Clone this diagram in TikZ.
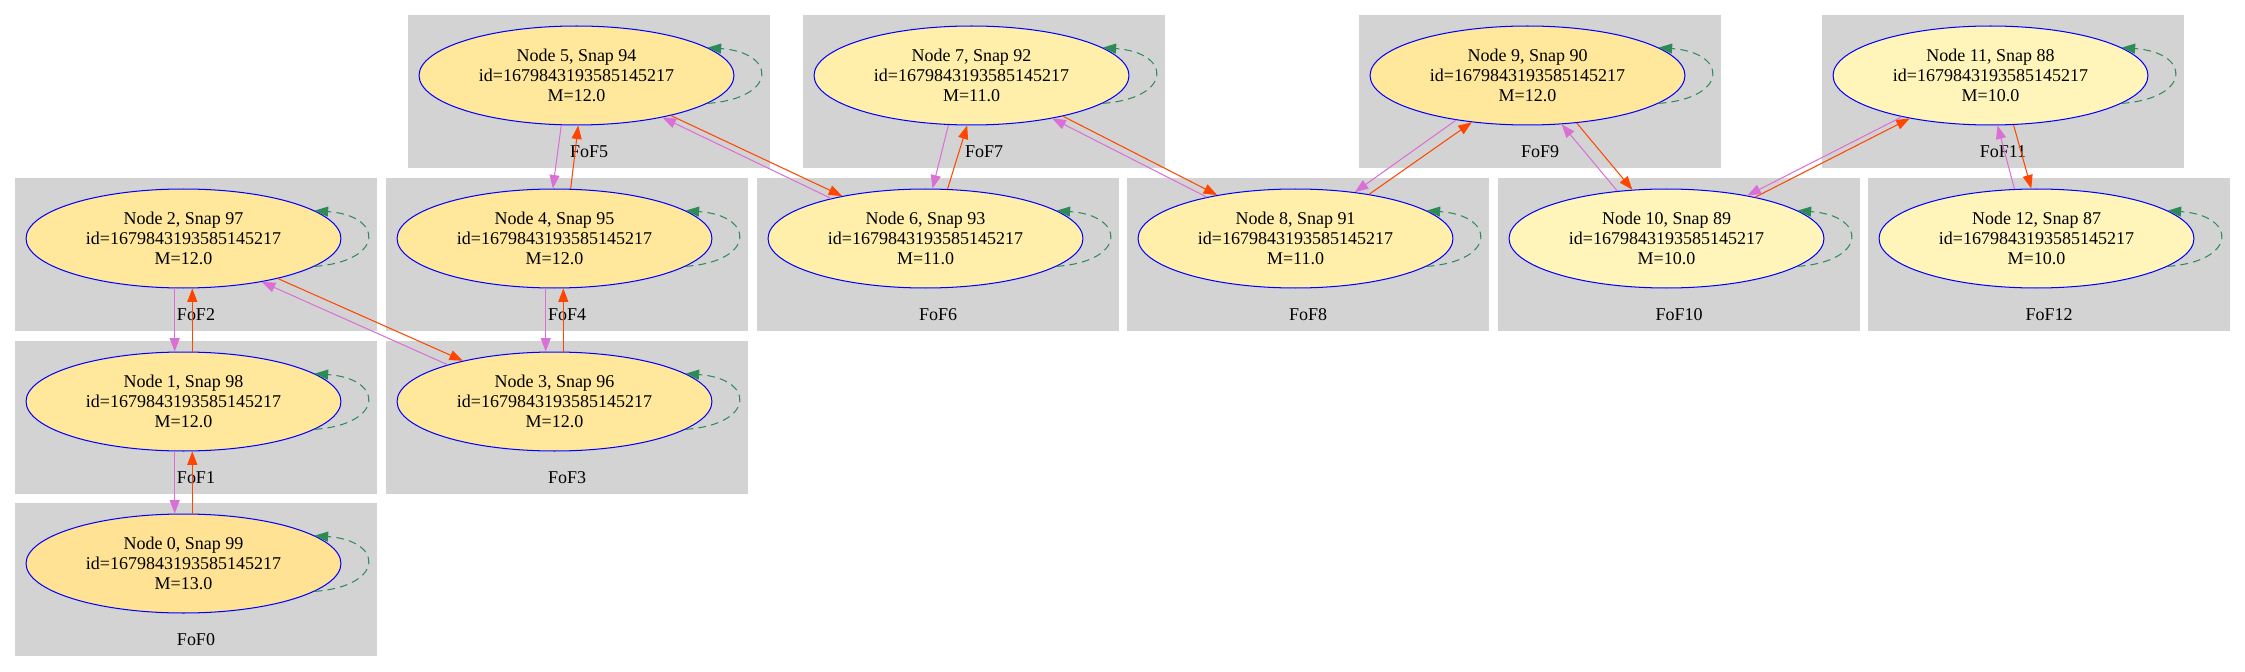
\documentclass[tikz,border=0pt]{standalone}
\usepackage{fontspec}
\setmainfont{Liberation Serif}
\usetikzlibrary{arrows.meta,shapes.geometric}
\definecolor{fofbg}{RGB}{211,211,211}
\definecolor{massxiii}{RGB}{255,226,147}
\definecolor{massxii}{RGB}{255,231,156}
\definecolor{massxi}{RGB}{255,239,170}
\definecolor{massx}{RGB}{255,245,186}
\definecolor{progline}{RGB}{255,69,0}
\definecolor{descline}{RGB}{218,112,214}
\definecolor{selfline}{RGB}{46,139,87}

\begin{document}
\begin{tikzpicture}[x=0.778pt,y=-0.778pt,font=\fontsize{14pt}{15.6pt}\selectfont,
    fof/.style={fill=fofbg,minimum width=281.6pt,minimum height=119pt,inner sep=0pt},
    fofname/.style={anchor=base,yshift=8.5pt,inner sep=0pt},
    halo/.style={ellipse,draw=blue,line width=0.8pt,minimum width=245pt,minimum height=77pt,inner sep=0pt,align=center},
    prog/.style={draw=progline,line width=0.8pt,-{Triangle[length=10.5pt,width=7.8pt]}},
    desc/.style={draw=descline,line width=0.8pt,-{Triangle[length=10.5pt,width=7.8pt]}},
    selfloop/.style={draw=selfline,line width=0.8pt,dash pattern=on 6pt off 4pt,-{Triangle[length=10.5pt,width=7.8pt]}}]
  \path[use as bounding box,fill=white] (0,0) rectangle (2245,672);
  % FoF groups
  \node[fof,label={[fofname]south:FoF0}] (c0) at (196,579.5) {};
  \node[fof,label={[fofname]south:FoF1}] (c1) at (196,417.5) {};
  \node[fof,label={[fofname]south:FoF2}] (c2) at (196,254.5) {};
  \node[fof,label={[fofname]south:FoF3}] (c3) at (567,417.5) {};
  \node[fof,label={[fofname]south:FoF4}] (c4) at (567,254.5) {};
  \node[fof,label={[fofname]south:FoF5}] (c5) at (589,91.5) {};
  \node[fof,label={[fofname]south:FoF6}] (c6) at (938,254.5) {};
  \node[fof,label={[fofname]south:FoF7}] (c7) at (984,91.5) {};
  \node[fof,label={[fofname]south:FoF8}] (c8) at (1308,254.5) {};
  \node[fof,label={[fofname]south:FoF9}] (c9) at (1540,91.5) {};
  \node[fof,label={[fofname]south:FoF10}] (c10) at (1679,254.5) {};
  \node[fof,label={[fofname]south:FoF11}] (c11) at (2003,91.5) {};
  \node[fof,label={[fofname]south:FoF12}] (c12) at (2049,254.5) {};
  % halos
  \node[halo,fill=massxiii] (n0) at (183.5,563.5) {Node 0, Snap 99\\id=1679843193585145217\\M=13.0};
  \node[halo,fill=massxii] (n1) at (183.5,401.5) {Node 1, Snap 98\\id=1679843193585145217\\M=12.0};
  \node[halo,fill=massxii] (n2) at (183.5,238.5) {Node 2, Snap 97\\id=1679843193585145217\\M=12.0};
  \node[halo,fill=massxii] (n3) at (554.5,401.5) {Node 3, Snap 96\\id=1679843193585145217\\M=12.0};
  \node[halo,fill=massxii] (n4) at (554.5,238.5) {Node 4, Snap 95\\id=1679843193585145217\\M=12.0};
  \node[halo,fill=massxii] (n5) at (576.5,75.5) {Node 5, Snap 94\\id=1679843193585145217\\M=12.0};
  \node[halo,fill=massxi] (n6) at (925.5,238.5) {Node 6, Snap 93\\id=1679843193585145217\\M=11.0};
  \node[halo,fill=massxi] (n7) at (971.5,75.5) {Node 7, Snap 92\\id=1679843193585145217\\M=11.0};
  \node[halo,fill=massxi] (n8) at (1295.5,238.5) {Node 8, Snap 91\\id=1679843193585145217\\M=11.0};
  \node[halo,fill=massxii] (n9) at (1527.5,75.5) {Node 9, Snap 90\\id=1679843193585145217\\M=12.0};
  \node[halo,fill=massx] (n10) at (1666.5,238.5) {Node 10, Snap 89\\id=1679843193585145217\\M=10.0};
  \node[halo,fill=massx] (n11) at (1990.5,75.5) {Node 11, Snap 88\\id=1679843193585145217\\M=10.0};
  \node[halo,fill=massx] (n12) at (2036.5,238.5) {Node 12, Snap 87\\id=1679843193585145217\\M=10.0};
  % self links
  \foreach \i in {0,...,12}
    \draw[selfloop] (n\i.-12) .. controls +(70,-5) and +(70,5) .. (n\i.12);
  % progenitor / descendant links
  \draw[prog] (n0.80) -- (n1.-80);
  \draw[desc] (n1.-100) -- (n0.100);
  \draw[prog] (n1.80) -- (n2.-80);
  \draw[desc] (n2.-100) -- (n1.100);
  \draw[prog] (n2.-23) -- (n3.156);
  \draw[desc] (n3.161) -- (n2.-29);
  \draw[prog] (n3.80) -- (n4.-80);
  \draw[desc] (n4.-100) -- (n3.100);
  \draw[prog] (n4.72) -- (n5.-88);
  \draw[desc] (n5.-107) -- (n4.92);
  \draw[prog] (n5.-23) -- (n6.153);
  \draw[desc] (n6.157) -- (n5.-26);
  \draw[prog] (n6.66) -- (n7.-95);
  \draw[desc] (n7.-115) -- (n6.82);
  \draw[prog] (n7.-24) -- (n8.151);
  \draw[desc] (n8.155) -- (n7.-28);
  \draw[prog] (n8.31) -- (n9.-140);
  \draw[desc] (n9.-148) -- (n8.38);
  \draw[prog] (n9.-44) -- (n10.125);
  \draw[desc] (n10.136) -- (n9.-55);
  \draw[prog] (n10.25) -- (n11.-152);
  \draw[desc] (n11.-155) -- (n10.28);
  \draw[prog] (n11.-65) -- (n12.96);
  \draw[desc] (n12.114) -- (n11.-82);
\end{tikzpicture}
\end{document}
